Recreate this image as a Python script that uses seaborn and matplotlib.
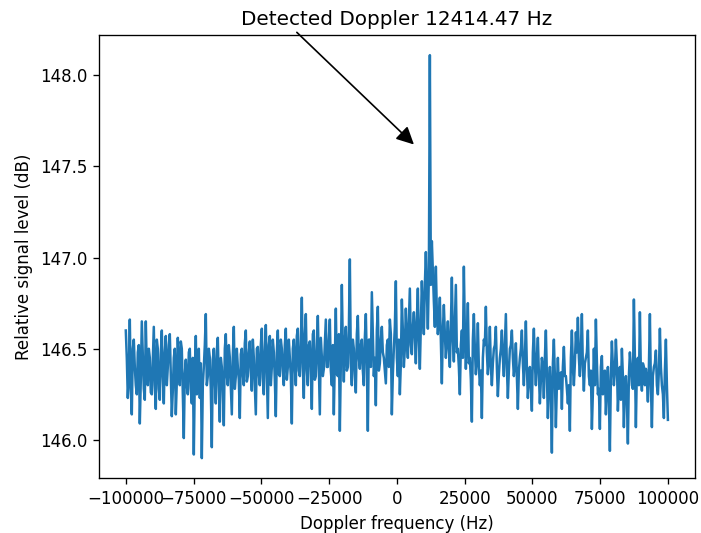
import numpy as np
import pandas as pd
import matplotlib
matplotlib.use("Agg")
import matplotlib.pyplot as plt
import seaborn as sns

# Relative signal level (dB), left to right:
# outer excursions (spikes / dips) ...
level_outer_db = [
    146.60, 146.23, 146.66, 146.14, 146.55, 146.30, 146.48, 146.09, 146.65, 146.28,
    146.65, 146.30, 146.45, 146.25, 146.62, 146.17, 146.50, 146.22, 146.60, 146.20,
    146.57, 146.40, 146.58, 146.13, 146.45, 146.14, 146.56, 146.30, 146.50, 146.01,
    146.44, 146.25, 146.50, 146.20, 145.92, 146.57, 146.30, 146.23, 145.90, 146.40,
    146.69, 146.35, 146.45, 145.96, 146.50, 146.20, 146.56, 146.10, 146.40, 146.08,
    146.58, 146.30, 146.45, 146.14, 146.62, 146.35, 146.40, 146.12, 146.50, 146.30,
    146.60, 146.35, 146.54, 146.27, 146.45, 146.14, 146.51, 146.30, 146.61, 146.25,
    146.63, 146.12, 146.57, 146.40, 146.48, 146.13, 146.60, 146.35, 146.50, 146.30,
    146.61, 146.40, 146.45, 146.09, 146.55, 146.30, 146.61, 146.35, 146.78, 146.23,
    146.69, 146.30, 146.54, 146.17, 146.60, 146.35, 146.68, 146.14, 146.45, 146.39,
    146.66, 146.40, 146.66, 146.30, 146.14, 146.72, 146.35, 146.05, 146.85, 146.32,
    146.62, 146.40, 146.99, 146.30, 146.50, 146.26, 146.68, 146.39, 146.55, 146.30,
    146.69, 146.05, 146.55, 146.81, 146.35, 146.19, 146.73, 146.42, 146.62, 146.45,
    146.31, 146.55, 146.66, 146.14, 146.50, 146.87, 146.35, 146.25, 146.77, 146.40,
    146.72, 146.45, 146.83, 146.47, 146.70, 146.42, 146.83, 146.39, 146.87, 146.58,
    147.03, 146.61, 148.11, 147.09, 146.76, 146.95, 146.58, 146.78, 146.31, 146.74,
    146.45, 146.65, 146.40, 146.89, 146.43, 146.85, 146.50, 146.25, 146.60, 146.95,
    146.39, 146.75, 146.45, 146.10, 146.69, 146.36, 146.64, 146.30, 146.12, 146.55,
    146.73, 146.36, 146.62, 146.30, 146.50, 146.62, 146.24, 146.45, 146.60, 146.35,
    146.69, 146.23, 146.50, 146.60, 146.35, 146.53, 146.17, 146.45, 146.60, 146.30,
    146.65, 146.23, 146.40, 146.16, 146.61, 146.30, 146.56, 146.20, 146.45, 146.23,
    146.60, 146.12, 146.40, 145.93, 146.55, 146.07, 146.45, 146.30, 146.17, 146.51,
    146.35, 146.20, 146.05, 146.60, 146.30, 146.59, 146.67, 146.35, 146.69, 146.27,
    146.45, 146.60, 146.30, 146.06, 146.50, 146.66, 146.25, 146.06, 146.46, 146.35,
    146.14, 146.40, 145.94, 146.54, 146.30, 146.55, 146.16, 146.40, 146.50, 146.07,
    146.35, 145.98, 146.48, 146.30, 146.77, 146.07, 146.45, 146.70, 146.27, 146.40,
    146.39, 146.21, 146.69, 146.07, 146.40, 146.49, 146.25, 146.61, 146.30, 146.12,
    146.55, 146.11,
]
# ... and the dense core band between them
level_core_db = [
    146.45, 146.35, 146.28, 146.50, 146.40, 146.25, 146.52, 146.33, 146.46, 146.22,
    146.38, 146.50, 146.26, 146.44, 146.30, 146.55, 146.28, 146.47, 146.35, 146.48,
    146.30, 146.52, 146.35, 146.27, 146.50, 146.32, 146.40, 146.54, 146.26, 146.36,
    146.30, 146.48, 146.28, 146.45, 146.35, 146.25, 146.50, 146.42, 146.30, 146.52,
    146.30, 146.50, 146.28, 146.44, 146.33, 146.49, 146.30, 146.45, 146.28, 146.50,
    146.35, 146.52, 146.30, 146.46, 146.28, 146.50, 146.33, 146.47, 146.36, 146.53,
    146.32, 146.48, 146.38, 146.55, 146.30, 146.50, 146.36, 146.52, 146.34, 146.49,
    146.38, 146.52, 146.30, 146.55, 146.33, 146.48, 146.36, 146.55, 146.38, 146.52,
    146.33, 146.55, 146.35, 146.50, 146.40, 146.57, 146.38, 146.52, 146.40, 146.58,
    146.38, 146.52, 146.40, 146.58, 146.33, 146.50, 146.42, 146.56, 146.35, 146.53,
    146.40, 146.55, 146.38, 146.52, 146.45, 146.36, 146.58, 146.42, 146.50, 146.55,
    146.38, 146.60, 146.42, 146.55, 146.36, 146.58, 146.45, 146.52, 146.38, 146.56,
    146.42, 146.55, 146.40, 146.58, 146.45, 146.60, 146.38, 146.55, 146.48, 146.38,
    146.52, 146.40, 146.58, 146.36, 146.62, 146.45, 146.55, 146.42, 146.60, 146.50,
    146.55, 146.65, 146.52, 146.62, 146.58, 146.66, 146.55, 146.63, 146.70, 146.85,
    146.82, 146.90, 146.85, 146.92, 146.62, 146.70, 146.66, 146.55, 146.60, 146.58,
    146.55, 146.50, 146.62, 146.56, 146.65, 146.48, 146.40, 146.52, 146.45, 146.60,
    146.55, 146.42, 146.33, 146.55, 146.50, 146.45, 146.40, 146.38, 146.45, 146.52,
    146.48, 146.45, 146.40, 146.42, 146.52, 146.40, 146.36, 146.50, 146.45, 146.52,
    146.40, 146.38, 146.52, 146.45, 146.42, 146.35, 146.38, 146.50, 146.42, 146.45,
    146.40, 146.33, 146.30, 146.48, 146.42, 146.45, 146.36, 146.32, 146.40, 146.45,
    146.35, 146.30, 146.25, 146.42, 146.35, 146.30, 146.28, 146.37, 146.40, 146.35,
    146.28, 146.30, 146.45, 146.40, 146.42, 146.48, 146.45, 146.50, 146.40, 146.42,
    146.48, 146.35, 146.38, 146.26, 146.30, 146.43, 146.28, 146.40, 146.25, 146.38,
    146.28, 146.22, 146.35, 146.40, 146.38, 146.42, 146.30, 146.22, 146.35, 146.28,
    146.22, 146.35, 146.40, 146.28, 146.45, 146.40, 146.30, 146.36, 146.42, 146.30,
    146.33, 146.40, 146.30, 146.35, 146.42, 146.30, 146.38, 146.40, 146.25, 146.38,
    146.30,
]

freq_min, freq_max = -100000, 100000
detected_doppler = 12414.47
title_text = f"Detected Doppler {detected_doppler:.2f} Hz"
x_label = "Doppler frequency (Hz)"
y_label = "Relative signal level (dB)"

# interleave the two read-off sequences into one spectrum
n = len(level_outer_db) + len(level_core_db)
level = np.empty(n)
level[0::2] = level_outer_db
level[1::2] = level_core_db
freqs = np.linspace(freq_min, freq_max, n)
df = pd.DataFrame({"freq": freqs, "level": level})

dpi = 120
fig = plt.figure(figsize=(701 / dpi, 533 / dpi), dpi=dpi)
W, H = 701, 533
left, right, top, bottom = 98.7, 695, 35, 478.3
ax = fig.add_axes([left / W, (H - bottom) / H, (right - left) / W, (bottom - top) / H])

sns.lineplot(data=df, x="freq", y="level", ax=ax, color="#1f77b4",
             linewidth=1.5, estimator=None, sort=False)

ax.set_xticks([-100000, -75000, -50000, -25000, 0, 25000, 50000, 75000, 100000])
ax.set_yticks([146.0, 146.5, 147.0, 147.5, 148.0])
ax.set_xlabel(x_label)
ax.set_ylabel(y_label)
ax.set_title(title_text, fontsize=12)

ax.annotate("", xy=(6300, 147.62), xytext=(-36900, 148.235),
            xycoords="data", textcoords="data", annotation_clip=False,
            arrowprops=dict(arrowstyle="-|>", color="black", lw=1.0,
                            mutation_scale=22, shrinkA=0, shrinkB=0))

fig.savefig("out.png", dpi=dpi)
